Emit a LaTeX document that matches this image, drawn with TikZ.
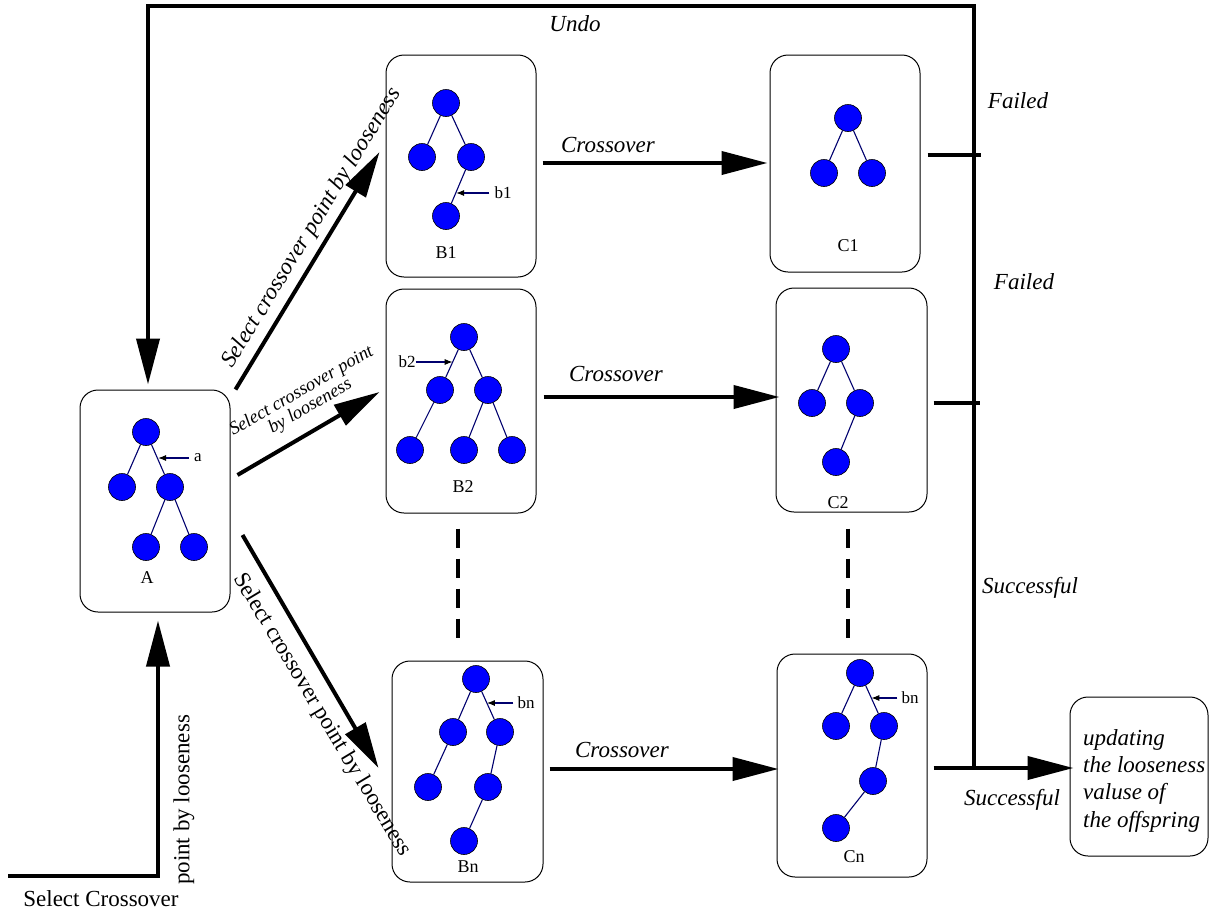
\documentclass[tikz,border=0pt]{standalone}
\usepackage{fontspec}
\setmainfont{Liberation Serif}
\usetikzlibrary{arrows.meta,calc}
\definecolor{treeblue}{RGB}{0,0,255}
\definecolor{edgenavy}{RGB}{0,0,110}
\begin{document}
\begin{tikzpicture}[x=1pt,y=-1pt,
  box/.style={draw,line width=1pt,rounded corners=18pt,inner sep=0},
  tn/.style={circle,fill=treeblue,draw=black,line width=0.6pt,minimum size=27pt,inner sep=0},
  te/.style={draw=edgenavy,line width=1.1pt},
  pointer/.style={draw=edgenavy,line width=1.1pt,-{Latex[length=8pt,width=6pt,black]}},
  big/.style={line width=4pt,-{Triangle[length=46pt,width=23pt]}},
  conn/.style={line width=4pt},
  dashline/.style={line width=4pt,dash pattern=on 19pt off 11pt},
  lbl/.style={font=\fontsize{23}{27.3}\selectfont\itshape,inner sep=0},
  rlbl/.style={font=\fontsize{23}{27}\selectfont,inner sep=0},
  tag/.style={font=\fontsize{17}{20}\selectfont,inner sep=0},
  boxtitle/.style={font=\fontsize{18}{20}\selectfont,inner sep=0},
]
\useasboundingbox (0,0) rectangle (1216,913);

% ---------- frames ----------
\node[box,minimum width=150pt,minimum height=222pt] (boxA)  at (155,501) {};
\node[box,minimum width=150pt,minimum height=222pt] (boxB1) at (461,166) {};
\node[box,minimum width=150pt,minimum height=224pt] (boxB2) at (461,401) {};
\node[box,minimum width=151pt,minimum height=221pt] (boxBn) at (467.5,771.5) {};
\node[box,minimum width=150pt,minimum height=217pt] (boxC1) at (845,163.5) {};
\node[box,minimum width=151pt,minimum height=224pt] (boxC2) at (851.5,400) {};
\node[box,minimum width=150pt,minimum height=223pt] (boxCn) at (852,765.5) {};
\node[box,minimum width=138pt,minimum height=159pt] (boxU)  at (1139,776.5) {};

% ---------- tree A ----------
\node[tn] (a0) at (146,432) {};
\node[tn] (a1) at (122,487) {};
\node[tn] (a2) at (170,487) {};
\node[tn] (a3) at (146,547) {};
\node[tn] (a4) at (194,547) {};
\draw[te] (a0) -- (a1) (a0) -- (a2) (a2) -- (a3) (a2) -- (a4);
\coordinate (ma) at ($(a0)!0.5!(a2)$);
\node[tag,anchor=west] (la) at (194,458) {a};
\node[boxtitle] (nA) at (147,578) {A};
\draw[pointer] ([xshift=-5pt]la.west) -- (la.west -| ma);

% ---------- tree B1 ----------
\node[tn] (b10) at (446,103) {};
\node[tn] (b11) at (422,157) {};
\node[tn] (b12) at (471,157) {};
\node[tn] (b13) at (446,216) {};
\draw[te] (b10) -- (b11) (b10) -- (b12) (b12) -- (b13);
\coordinate (mb1) at ($(b12)!0.6!(b13)$);
\node[tag] (lb1) at (503,193) {b1};
\node[boxtitle] (nB1) at (446,253) {B1};
\draw[pointer] ([xshift=-5pt]lb1.west) -- (lb1.west -| mb1);

% ---------- tree B2 ----------
\node[tn] (b20) at (464,337) {};
\node[tn] (b21) at (440,390) {};
\node[tn] (b22) at (488,390) {};
\node[tn] (b23) at (410,450) {};
\node[tn] (b24) at (464,450) {};
\node[tn] (b25) at (512,450) {};
\draw[te] (b20) -- (b21) (b20) -- (b22) (b21) -- (b23) (b22) -- (b24) (b22) -- (b25);
\coordinate (mb2) at ($(b20)!0.47!(b21)$);
\node[tag] (lb2) at (407,362) {b2};
\node[boxtitle] (nB2) at (463,487) {B2};
\draw[pointer] (lb2.east) -- (lb2.east -| mb2);

% ---------- tree Bn ----------
\node[tn] (n0) at (476,679) {};
\node[tn] (n1) at (453,732) {};
\node[tn] (n2) at (500,732) {};
\node[tn] (n3) at (428,787) {};
\node[tn] (n4) at (488,787) {};
\node[tn] (n5) at (464,841) {};
\draw[te] (n0) -- (n1) (n0) -- (n2) (n1) -- (n3) (n2) -- (n4) (n4) -- (n5);
\coordinate (mbn) at ($(n0)!0.45!(n2)$);
\node[tag] (lbn) at (526,703) {bn};
\node[boxtitle] (nBn) at (468,867) {Bn};
\draw[pointer] ([xshift=-4pt]lbn.west) -- (lbn.west -| mbn);

% ---------- tree C1 ----------
\node[tn] (k0) at (848,118) {};
\node[tn] (k1) at (824,173) {};
\node[tn] (k2) at (872,173) {};
\draw[te] (k0) -- (k1) (k0) -- (k2);
\node[boxtitle] (nC1) at (848,246) {C1};

% ---------- tree C2 ----------
\node[tn] (m0) at (836,349) {};
\node[tn] (m1) at (812,403) {};
\node[tn] (m2) at (860,403) {};
\node[tn] (m3) at (836,462) {};
\draw[te] (m0) -- (m1) (m0) -- (m2) (m2) -- (m3);
\node[boxtitle] (nC2) at (838,503) {C2};

% ---------- tree Cn ----------
\node[tn] (p0) at (860,673) {};
\node[tn] (p1) at (836,726) {};
\node[tn] (p2) at (884,726) {};
\node[tn] (p3) at (873,781) {};
\node[tn] (p4) at (836,828) {};
\draw[te] (p0) -- (p1) (p0) -- (p2) (p2) -- (p3) (p3) -- (p4);
\coordinate (mcn) at ($(p0)!0.47!(p2)$);
\node[tag] (lcn) at (910,698) {bn};
\node[boxtitle] (nCn) at (854,857) {Cn};
\draw[pointer] ([xshift=-4pt]lcn.west) -- (lcn.west -| mcn);

% ---------- selection arrows out of A ----------
\draw[big] ([shift={(5,0)}]boxA.north east) -- ([shift={(-6,-14)}]boxB1.west);
\draw[big] ([shift={(7,-26)}]boxA.east) -- ([shift={(-6,-9)}]boxB2.west);
\draw[big] ([shift={(12,34)}]boxA.east) -- ([shift={(-13,-3.5)}]boxBn.west);
\node[lbl,rotate=58.6] (s1) at (312,228) {Select crossover point by looseness};
\node[font=\fontsize{18.5}{14}\selectfont\itshape,inner sep=0,rotate=30,align=center] (s2) at (306,399) {Select crossover point\\by looseness};
\node[rlbl,rotate=-59] (s3) at (322,715) {Select crossover point by looseness};

% ---------- crossover arrows ----------
\draw[big,shorten >=8pt] ([shift={(6,-3)}]boxB1.east) -- ([shift={(6,-3)}]boxB1.east -| boxC1.west);
\draw[big,shorten >=3pt] ([shift={(7,-4)}]boxB2.east) -- ([shift={(7,-4)}]boxB2.east -| boxC2.west);
\draw[big,shorten >=4pt] ([shift={(6,-2.5)}]boxBn.east) -- ([shift={(6,-2.5)}]boxBn.east -| boxCn.west);
\node[lbl] (x1) at (608,145) {Crossover};
\node[lbl] (x2) at (616,374) {Crossover};
\node[lbl] (x3) at (622,750) {Crossover};

% ---------- dotted continuation between rows ----------
\draw[dashline] ([shift={(-3,15)}]boxB2.south) -- ++(0,109);
\draw[dashline] ([shift={(-3.5,16)}]boxC2.south) -- ++(0,109);

% ---------- outcome bus ----------
\coordinate (J)  at (974,768);
\coordinate (UR) at (974,6);
\coordinate (UL) at (148,6);
\draw[conn] ([shift={(7,-8.5)}]boxC1.east) -- ([shift={(7,-8.5)}]boxC1.east -| J);
\draw[conn] ([shift={(6,3)}]boxC2.east) -- ([shift={(6,3)}]boxC2.east -| J);
\draw[big,shorten >=2pt] ([shift={(6,2.5)}]boxCn.east) -- ([shift={(6,2.5)}]boxCn.east -| boxU.west);
\draw[big] (J) -- (UR) -- (UL) -- ([shift={(-7,-5)}]boxA.north);
\node[lbl] (undo) at (575,24) {Undo};
\node[lbl] (f1) at (1018,101) {Failed};
\node[lbl] (f2) at (1024,282) {Failed};
\node[lbl] (ok1) at (1030,588) {Successful};
\node[lbl] (ok2) at (1012,800) {Successful};
\node[lbl,align=left,anchor=north west] (ut) at (1083,729) {updating\\the looseness\\valuse of\\the offspring};

% ---------- entry into A ----------
\coordinate (start) at (8,876);
\draw[big] (start) -| ([shift={(3,8)}]boxA.south);
\node[rlbl,rotate=90] (s4) at (184,800) {point by looseness};
\node[rlbl] (s5) at (101,899) {Select Crossover};
\end{tikzpicture}
\end{document}
